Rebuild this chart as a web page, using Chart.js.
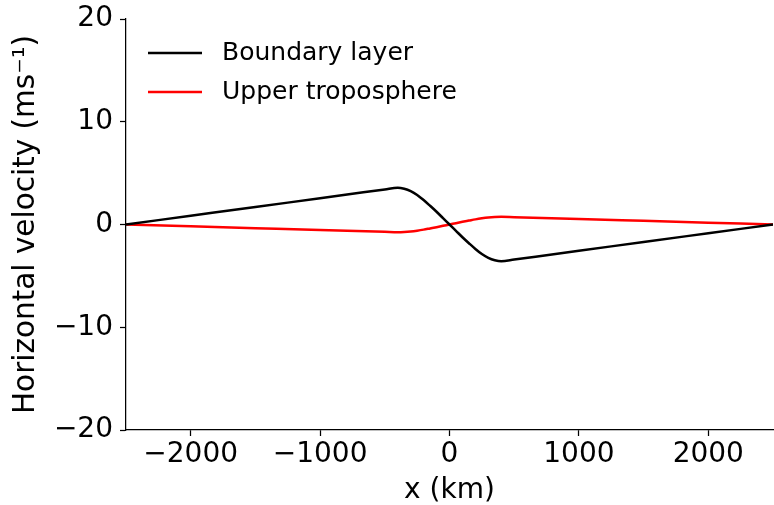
<!DOCTYPE html>
<html>
<head>
<meta charset="utf-8">
<script src="https://cdn.jsdelivr.net/npm/chart.js@4.4.1/dist/chart.umd.min.js"></script>
<style>
    html, body { margin: 0; padding: 0; background: #fff; }
</style>
</head>
<body>
<canvas id="grafica" width="774" height="505"></canvas>
<script>
// x positions (km) and velocities (m/s)
const xKm = [-2500, -2000, -1500, -1000, -500, -400, -350, -300, -250, -200, -150, -100, -50,
    0, 50, 100, 150, 200, 250, 300, 350, 400, 500, 1000, 1500, 2000, 2500];
const boundaryLayer = [0, 0.85, 1.70, 2.56, 3.41, 3.58, 3.48, 3.25, 2.88, 2.38, 1.82, 1.24, 0.62,
    0, -0.62, -1.24, -1.82, -2.38, -2.88, -3.25, -3.48, -3.58, -3.41, -2.56, -1.70, -0.85, 0];
const upperTroposphere = [0, -0.18, -0.36, -0.54, -0.71, -0.75, -0.73, -0.68, -0.60, -0.50, -0.38, -0.26, -0.13,
    0, 0.13, 0.26, 0.38, 0.50, 0.60, 0.68, 0.73, 0.75, 0.71, 0.54, 0.36, 0.18, 0];

const xTicks = [-2000, -1000, 0, 1000, 2000];
const yTicks = [-20, -10, 0, 10, 20];

const grafica = document.getElementById("grafica");
Chart.defaults.font.family = '"DejaVu Sans", sans-serif';
Chart.defaults.color = "#000";

function puntos(valores) {
    return xKm.map((x, i) => ({ x: x, y: valores[i] }));
}

// matplotlib uses a real minus sign
function conMenos(valor) {
    return valor < 0 ? "\u2212" + Math.abs(valor) : String(valor);
}

// legend drawn inside the plot, top left
const leyendaInterna = {
    id: "leyendaInterna",
    afterDraw(chart) {
        const ctx = chart.ctx;
        const area = chart.chartArea;
        ctx.save();
        ctx.font = '25px "DejaVu Sans"';
        ctx.textBaseline = "middle";
        chart.data.datasets.forEach((ds, i) => {
            const y = area.top + 34 + i * 39;
            ctx.strokeStyle = ds.borderColor;
            ctx.lineWidth = 2.5;
            ctx.beginPath();
            ctx.moveTo(area.left + 22, y);
            ctx.lineTo(area.left + 76, y);
            ctx.stroke();
            ctx.fillStyle = "#000";
            ctx.fillText(ds.label, area.left + 96, y);
        });
        ctx.restore();
    }
};

const ejeComun = {
    grid: { drawOnChartArea: false, drawTicks: true, tickLength: 6, tickWidth: 1.25, tickColor: "#000" },
    border: { color: "#000", width: 1.25 },
};

new Chart(grafica, {
    type: "line",
    data: {
        datasets: [
            {
                label: "Boundary layer",
                data: puntos(boundaryLayer),
                borderColor: "#000000",
                borderWidth: 2.5,
                pointRadius: 0,
                cubicInterpolationMode: "monotone",
            },
            {
                label: "Upper troposphere",
                data: puntos(upperTroposphere),
                borderColor: "#ff0000",
                borderWidth: 2.5,
                pointRadius: 0,
                cubicInterpolationMode: "monotone",
            },
        ],
    },
    options: {
        responsive: false,
        animation: false,
        layout: { padding: { top: 19, right: 1, left: 0, bottom: 0 } },
        plugins: { legend: { display: false }, tooltip: { enabled: false } },
        scales: {
            x: {
                ...ejeComun,
                type: "linear",
                min: -2500,
                max: 2500,
                afterBuildTicks: s => { s.ticks = xTicks.map(v => ({ value: v })); },
                afterFit: s => { s.height = 75; s.paddingLeft = 0; s.paddingRight = 0; },
                ticks: { font: { size: 28 }, padding: 2, maxRotation: 0, autoSkip: false, callback: conMenos },
                title: { display: true, text: "x (km)", font: { size: 28, lineHeight: 1 }, padding: { top: 0, bottom: 0 } },
            },
            y: {
                ...ejeComun,
                min: -20,
                max: 20,
                afterBuildTicks: s => { s.ticks = yTicks.map(v => ({ value: v })); },
                afterFit: s => { s.width = 126; s.paddingTop = 0; s.paddingBottom = 0; },
                ticks: { font: { size: 28 }, padding: 7, autoSkip: false, callback: conMenos },
                title: { display: true, text: "Horizontal velocity (ms\u207B\u00B9)", font: { size: 29.5, lineHeight: 1 }, padding: { top: 12, bottom: 0 } },
            },
        },
    },
    plugins: [leyendaInterna],
});
</script>
</body>
</html>
